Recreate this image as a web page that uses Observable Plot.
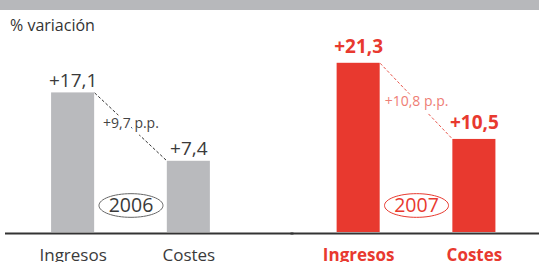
<!DOCTYPE html>
<html><head><meta charset="utf-8">
<script src="https://cdn.jsdelivr.net/npm/d3@7"></script>
<script src="https://cdn.jsdelivr.net/npm/@observablehq/plot@0.6"></script>
<style>
html,body{margin:0;padding:0;background:#fff;overflow:hidden;width:539px;height:262px}
#band{position:absolute;left:0;top:0;width:539px;height:10px;background:#b7b8bb}
#sub{position:absolute;left:10px;top:15px;font:16px/20px "Open Sans",sans-serif;color:#333;white-space:nowrap;z-index:1}
#chart{position:absolute;left:0;top:26px}
</style></head><body>
<div id="band"></div>
<div id="chart"></div>
<div id="sub">% variación</div>
<script>
// ---- data ----
const years = [2006, 2007];
const categories = ["Ingresos", "Costes"];
const ingresos = [17.1, 21.3];
const costes = [7.4, 10.5];
const yearLabels = ["2006", "2007"];

// ---- styles ----
const Y0 = -2.7, Y1 = 25.1;
const look = {
  2006: {bar: "#b9babd", value: "#3a3a3a", weight: 400, valueDy: -6, diffDy: -4, link: "#333", diff: "#444", ring: "#666"},
  2007: {bar: "#e8392f", value: "#e8392f", weight: 700, valueDy: -10, diffDy: 0, link: "#e8574d", diff: "#ee7d75", ring: "#e8392f"}
};

const rows = years.flatMap((year, i) => [
  {year, category: categories[0], value: ingresos[i]},
  {year, category: categories[1], value: costes[i]}
]);
const pairs = years.map((year, i) => ({year, from: ingresos[i], to: costes[i], diff: ingresos[i] - costes[i]}));
const fmt = v => "+" + v.toFixed(1).replace(".", ",");

function ellipseSymbol(ratio) {
  return {draw(ctx, size) {
    const rx = Math.sqrt(size / Math.PI), ry = rx * ratio, k = 0.5523;
    ctx.moveTo(rx, 0);
    ctx.bezierCurveTo(rx, ry * k, rx * k, ry, 0, ry);
    ctx.bezierCurveTo(-rx * k, ry, -rx, ry * k, -rx, 0);
    ctx.bezierCurveTo(-rx, -ry * k, -rx * k, -ry, 0, -ry);
    ctx.bezierCurveTo(rx * k, -ry, rx, -ry * k, rx, 0);
    ctx.closePath();
  }};
}
function edgeCurve(h) {
  return ctx => {
    let n = 0;
    return {
      areaStart() {}, areaEnd() {},
      lineStart() { n = 0; }, lineEnd() {},
      point(x, y) { if (n++ === 0) ctx.moveTo(x + h, y); else ctx.lineTo(x - h, y); }
    };
  };
}

function make(h) {
  const marks = [];
  years.forEach((year, i) => {
    const s = look[year];
    const sel = d => d.year === year;
    marks.push(
      Plot.barY(rows, {filter: sel, fx: "year", x: "category", y1: Y0, y2: "value", fill: s.bar}),
      Plot.link(pairs, {filter: sel, fx: "year", x1: () => categories[0], x2: () => categories[1], y1: "from", y2: "to",
        stroke: s.link, strokeWidth: 1, strokeDasharray: "3,2", curve: edgeCurve(h)}),
      Plot.text(pairs, {filter: sel, fx: "year", y: d => (d.from + d.to) / 2, text: d => fmt(d.diff) + " p.p.",
        dy: s.diffDy, fontSize: 14, fill: s.diff, stroke: "white", strokeWidth: 7, paintOrder: "stroke"}),
      Plot.text(rows, {filter: sel, fx: "year", x: "category", y: "value", text: d => fmt(d.value),
        lineAnchor: "bottom", dy: s.valueDy, fontSize: 19, fontWeight: s.weight, fill: s.value}),
      Plot.text(rows, {filter: sel, fx: "year", x: "category", text: "category", frameAnchor: "bottom",
        lineAnchor: "bottom", dy: 28, fontSize: 17, fontWeight: s.weight, fill: s.value}),
      Plot.dot([year], {fx: d => d, frameAnchor: "bottom", dy: -27, r: 32, symbol: ellipseSymbol(0.37),
        stroke: s.ring, strokeWidth: 1, fill: "white"}),
      Plot.text([year], {fx: d => d, text: d => yearLabels[years.indexOf(d)], frameAnchor: "bottom",
        lineAnchor: "middle", dy: -27, fontSize: 19.5, fill: s.value})
    );
  });
  marks.push(Plot.ruleY([Y0], {stroke: "#333", strokeWidth: 2, insetLeft: -2.5, insetRight: -40, dy: 1}));
  return Plot.plot({
    width: 539, height: 236,
    marginLeft: 7.5, marginRight: 0, marginTop: 10, marginBottom: 30,
    style: {fontFamily: "Open Sans, sans-serif", background: "transparent"},
    fx: {domain: years, axis: null, paddingInner: 0.1386, paddingOuter: 0, round: false},
    x: {domain: categories, axis: null, paddingInner: 0.628, paddingOuter: 0.3766, round: false},
    y: {domain: [Y0, Y1], axis: null},
    marks
  });
}

let chart = make(0);
const bw = chart.scale("x").bandwidth || 0;
chart = make(bw / 2);
document.getElementById("chart").append(chart);
</script>
</body></html>
